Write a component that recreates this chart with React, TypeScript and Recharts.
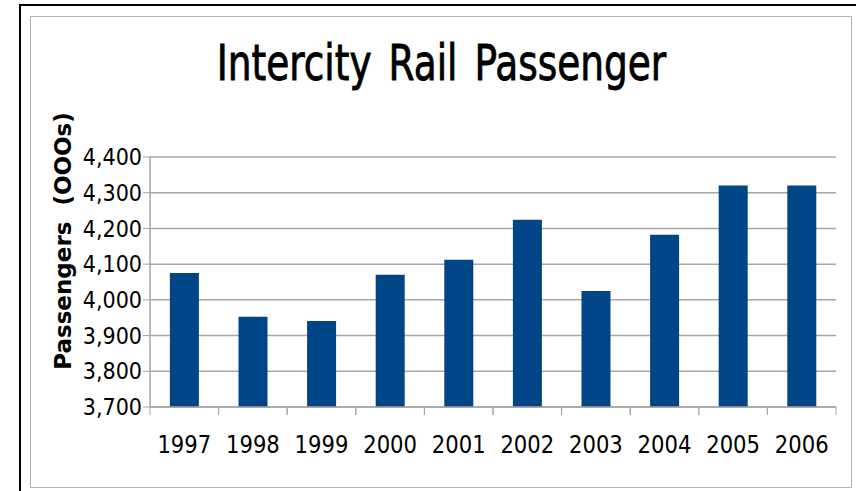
import React from "react";
import {
  BarChart,
  Bar,
  XAxis,
  YAxis,
  CartesianGrid,
  Label,
} from "recharts";

const years = ["1997", "1998", "1999", "2000", "2001", "2002", "2003", "2004", "2005", "2006"];
const passengers = [4075, 3953, 3941, 4070, 4112, 4224, 4025, 4182, 4320, 4320];
const yTicks = [3700, 3800, 3900, 4000, 4100, 4200, 4300, 4400];

const data = years.map((year, i) => ({ year, passengers: passengers[i] }));

const W = 856;
const H = 491;
const MARGIN = { top: 157, right: 20, bottom: 34, left: 80 };
const Y_AXIS_W = 70;
const BAND = (W - MARGIN.left - MARGIN.right - Y_AXIS_W) / years.length;

const GRID = "#a6a6a6";
const BAR = "#004586";
const FONT = "'DejaVu Sans Condensed', 'DejaVu Sans', sans-serif";

function YearTick(props: any) {
  const { x, y, payload } = props;
  return (
    <g>
      <line x1={x - BAND / 2} x2={x - BAND / 2} y1={y} y2={y + 8} stroke={GRID} />
      <line x1={x + BAND / 2} x2={x + BAND / 2} y1={y} y2={y + 8} stroke={GRID} />
      <text
        transform={`translate(${x}, ${y + 46}) scale(0.94, 1)`}
        x={0}
        y={0}
        textAnchor="middle"
        fill="#000"
        fontSize={25}
        fontFamily={FONT}
      >
        {payload.value}
      </text>
    </g>
  );
}

export default function App() {
  return (
    <div
      style={{
        position: "absolute",
        left: 0,
        top: 0,
        width: W,
        height: H,
        background: "#fff",
        overflow: "hidden",
      }}
    >
      {/* outer frame */}
      <div
        style={{
          position: "absolute",
          left: 19,
          top: 4,
          width: W,
          height: H,
          borderLeft: "2px solid #000",
          borderTop: "2px solid #000",
        }}
      />
      {/* inner frame */}
      <div
        style={{
          position: "absolute",
          left: 30,
          top: 16,
          width: 820,
          height: 470,
          border: "1px solid #b3b3b3",
        }}
      />
      <svg
        width={W}
        height={110}
        style={{ position: "absolute", left: 0, top: 0 }}
      >
        <text
          transform="translate(441.5, 80) scale(0.85, 1)"
          x={0}
          y={0}
          textAnchor="middle"
          fontFamily={FONT}
          fontSize={49}
          wordSpacing={6}
          fill="#000"
          stroke="#000"
          strokeWidth={0.8}
        >
          Intercity Rail Passenger
        </text>
      </svg>
      <div style={{ position: "absolute", left: 0, top: 0 }}>
        <BarChart width={W} height={H} data={data} margin={MARGIN} barCategoryGap="29%">
          <CartesianGrid vertical={false} stroke={GRID} strokeWidth={1.5} />
          <XAxis
            dataKey="year"
            tick={<YearTick />}
            tickLine={false}
            tickSize={0}
            tickMargin={0}
            axisLine={{ stroke: GRID, strokeWidth: 1.5 }}
            height={50}
            interval={0}
          />
          <YAxis
            domain={[3700, 4400]}
            ticks={yTicks}
            interval={0}
            width={Y_AXIS_W}
            tickFormatter={(v: number) => v.toLocaleString("en-US")}
            tick={{ fill: "#000", fontSize: 23, fontFamily: FONT }}
            tickLine={{ stroke: GRID }}
            tickSize={7}
            tickMargin={1}
            axisLine={{ stroke: GRID, strokeWidth: 1.5 }}
          >
            <Label
              content={() => (
                <text
                  x={71}
                  y={241}
                  transform="rotate(-90 71 241)"
                  textAnchor="middle"
                  fontFamily="'DejaVu Sans', sans-serif"
                  fontWeight="bold"
                  fontSize={23}
                  fill="#000"
                  style={{ whiteSpace: "pre" }}
                >
                  {"Passengers  (OOOs)"}
                </text>
              )}
            />
          </YAxis>
          <Bar dataKey="passengers" fill={BAR} isAnimationActive={false} />
        </BarChart>
      </div>
    </div>
  );
}
